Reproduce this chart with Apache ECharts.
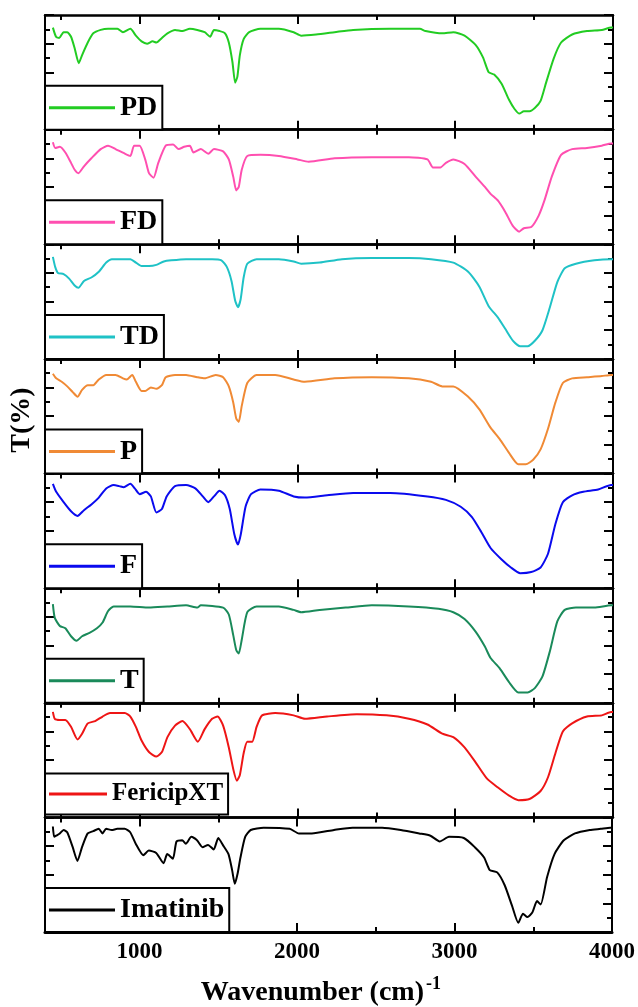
<!DOCTYPE html>
<html><head><meta charset="utf-8">
<script src="https://cdn.jsdelivr.net/npm/echarts@6/dist/echarts.min.js"></script>
<style>html,body{margin:0;padding:0;background:#fff}#c{width:638px;height:1007px}</style>
</head><body><div id="c"></div>
<script>
// ---- data: [wavenumber (cm-1), relative transmittance (0-100 within its panel)] ----
const names = ['PD', 'FD', 'TD', 'P', 'F', 'T', 'FericipXT', 'Imatinib'];
const colors = ['#22cc22', '#ff4fb0', '#1fc2c6', '#f08a35', '#0a0aee', '#1a8a5a', '#ee1515', '#000000'];
const xMajorTicks = [1000, 2000, 3000, 4000];
const xMinorTicks = [500, 1500, 2500, 3500];

const PD = [[450,89],[470,81],[490,80],[518,85],[541,85],[565,81],[588,71],[614,58],[635,65],[671,76],[706,84],[753,87],[800,88],[859,88],[894,85],[941,88],[976,82],[1012,77],[1047,75],[1082,77],[1106,76],[1141,80],[1176,84],[1224,87],[1271,86],[1318,88],[1365,87],[1412,85],[1447,81],[1471,87],[1506,86],[1541,84],[1565,76],[1588,59],[1605,41],[1619,46],[1635,65],[1659,79],[1694,85],[1765,88],[1882,88],[1976,85],[2024,82],[2118,83],[2235,85],[2353,87],[2588,88],[2776,88],[2812,86],[2918,84],[2988,85],[3059,82],[3129,74],[3176,63],[3212,50],[3247,48],[3294,40],[3341,26],[3376,18],[3407,14],[3435,16],[3471,16],[3506,19],[3541,25],[3576,41],[3624,62],[3671,76],[3741,83],[3835,86],[3929,87],[3988,89],[4000,89]];
const FD = [[450,89],[465,84],[494,85],[529,80],[565,71],[588,65],[612,62],[647,68],[694,75],[753,83],[800,86],[847,83],[906,79],[941,77],[965,86],[1000,86],[1035,74],[1059,62],[1088,58],[1118,71],[1165,86],[1212,87],[1247,83],[1282,85],[1318,86],[1341,80],[1388,83],[1435,79],[1471,83],[1529,81],[1565,74],[1593,59],[1612,47],[1628,50],[1647,65],[1682,77],[1765,78],[1882,77],[2000,74],[2071,72],[2235,75],[2471,76],[2706,76],[2824,74],[2859,67],[2906,67],[2941,71],[2988,74],[3059,70],[3129,59],[3188,50],[3224,44],[3271,38],[3318,28],[3365,16],[3405,11],[3435,14],[3482,15],[3529,25],[3565,38],[3612,59],[3671,78],[3741,83],[3835,84],[3929,86],[3988,88],[4000,88]];
const TD = [[450,89],[465,80],[482,75],[518,74],[553,70],[588,64],[612,62],[647,68],[694,71],[741,76],[788,84],[824,87],[894,87],[941,87],[976,84],[1012,81],[1059,81],[1106,82],[1153,85],[1200,86],[1294,87],[1388,87],[1459,87],[1518,86],[1553,80],[1582,68],[1605,51],[1623,45],[1640,52],[1659,71],[1682,83],[1741,87],[1882,87],[1976,85],[2024,83],[2141,84],[2282,87],[2471,88],[2706,88],[2847,87],[2988,84],[3082,76],[3153,63],[3212,46],[3271,36],[3318,26],[3365,16],[3412,11],[3459,11],[3506,16],[3553,25],[3600,45],[3647,67],[3694,79],[3765,83],[3882,86],[3988,87],[4000,87]];
const P = [[450,87],[471,83],[506,80],[541,76],[576,71],[606,67],[635,73],[671,77],[706,77],[741,82],[788,86],[847,86],[894,83],[918,82],[953,86],[976,80],[1012,72],[1035,72],[1071,75],[1106,74],[1141,77],[1165,84],[1224,86],[1294,86],[1365,84],[1412,83],[1482,86],[1529,84],[1565,76],[1593,62],[1612,48],[1628,45],[1647,59],[1682,79],[1741,86],[1859,86],[1976,82],[2047,80],[2235,83],[2471,84],[2706,83],[2847,80],[2918,76],[2988,76],[3082,67],[3153,56],[3224,40],[3282,30],[3341,18],[3400,8],[3447,8],[3494,12],[3541,21],[3588,39],[3635,62],[3682,79],[3741,83],[3835,84],[3929,85],[3988,86],[4000,86]];
const F = [[450,91],[471,84],[518,75],[565,67],[606,63],[647,68],[694,73],[741,79],[788,87],[835,90],[871,89],[899,88],[941,91],[969,87],[1000,82],[1041,84],[1071,80],[1106,66],[1141,69],[1171,80],[1224,89],[1294,90],[1353,87],[1400,80],[1435,75],[1471,80],[1506,85],[1541,81],[1571,69],[1600,47],[1623,38],[1641,47],[1671,71],[1706,82],[1765,86],[1882,85],[1976,80],[2047,79],[2188,81],[2353,83],[2588,83],[2824,80],[2941,77],[3035,71],[3106,62],[3165,49],[3224,35],[3294,25],[3353,18],[3412,13],[3482,14],[3541,18],[3588,30],[3635,56],[3682,75],[3741,81],[3812,84],[3906,86],[3988,90],[4000,90]];
const T = [[450,86],[462,74],[494,67],[529,65],[565,58],[600,54],[635,58],[682,61],[729,65],[765,70],[800,80],[835,84],[941,84],[1059,83],[1176,84],[1294,85],[1365,83],[1388,85],[1529,83],[1565,77],[1593,59],[1612,46],[1628,43],[1647,55],[1682,79],[1741,84],[1882,84],[1976,81],[2024,79],[2141,81],[2306,83],[2471,85],[2706,84],[2894,82],[2988,79],[3059,73],[3129,62],[3188,49],[3224,39],[3282,30],[3341,18],[3400,9],[3459,9],[3506,13],[3553,23],[3600,45],[3647,71],[3694,81],[3765,83],[3882,83],[3988,85],[4000,85]];
const FericipXT = [[450,92],[462,86],[494,85],[529,85],[565,79],[606,68],[635,73],[671,82],[718,84],[765,88],[812,91],[859,91],[906,91],[941,88],[976,79],[1012,67],[1059,57],[1106,53],[1141,57],[1176,70],[1224,80],[1271,84],[1318,77],[1369,66],[1412,77],[1459,86],[1494,88],[1529,80],[1565,61],[1595,41],[1616,32],[1635,37],[1659,56],[1682,66],[1713,66],[1741,79],[1776,89],[1859,91],[1976,89],[2047,86],[2188,88],[2376,90],[2565,89],[2706,86],[2824,81],[2918,73],[2988,70],[3059,61],[3129,48],[3200,34],[3271,26],[3341,19],[3400,15],[3471,16],[3541,23],[3588,35],[3635,56],[3682,75],[3741,82],[3835,88],[3929,89],[3988,92],[4000,92]];
const Imatinib = [[450,92],[458,83],[471,84],[494,86],[518,89],[541,87],[576,74],[606,62],[635,74],[671,86],[706,88],[741,90],[765,86],[788,90],[824,89],[859,90],[906,90],[941,87],[976,77],[1024,67],[1059,71],[1106,69],[1153,60],[1176,68],[1212,64],[1235,79],[1271,80],[1294,77],[1329,83],[1365,80],[1400,74],[1435,76],[1471,72],[1500,82],[1529,76],[1565,68],[1588,54],[1605,42],[1623,51],[1641,65],[1671,83],[1706,89],[1788,91],[1953,90],[2012,86],[2094,86],[2235,89],[2353,91],[2541,91],[2659,89],[2776,86],[2847,84],[2906,79],[2965,83],[3059,82],[3129,74],[3188,65],[3224,54],[3271,52],[3318,41],[3365,23],[3405,8],[3435,16],[3463,13],[3494,17],[3524,27],[3547,24],[3588,48],[3635,68],[3694,80],[3765,86],[3859,89],[3929,90],[3988,91],[4000,91]];

const spectra = [PD, FD, TD, P, F, T, FericipXT, Imatinib];

// ---- layout ----
const LEFT = 45, RIGHT = 25, TOP = 15, BOTTOM_Y = 932;
const N = names.length;
const PH = (BOTTOM_Y - TOP) / N;
const serif = '"Liberation Serif", "Times New Roman", serif';

const grid = [], xAxis = [], yAxis = [], series = [], legend = [];
for (let i = 0; i < N; i++) {
  const top = TOP + i * PH;
  const last = i === N - 1;
  grid.push({ left: LEFT, right: RIGHT, top: top, height: PH, containLabel: false });
  const base = { gridIndex: i, type: 'value', min: 400, max: 4000, splitLine: { show: false } };
  // bottom major
  xAxis.push(Object.assign({}, base, {
    position: 'bottom',
    axisLine: { show: true, lineStyle: { color: '#000', width: last ? 3 : 2.5 } },
    axisTick: { show: true, inside: true, length: 9, customValues: xMajorTicks, lineStyle: { color: '#000', width: 2 } },
    axisLabel: last ? { show: true, customValues: xMajorTicks, margin: 9, color: '#000',
      formatter: function (v) { return String(v); },
      fontFamily: serif, fontWeight: 'bold', fontSize: 23 } : { show: false }
  }));
  // bottom minor
  xAxis.push(Object.assign({}, base, {
    position: 'bottom',
    axisLine: { show: false },
    axisTick: { show: true, inside: true, length: 5, customValues: xMinorTicks, lineStyle: { color: '#000', width: 2 } },
    axisLabel: { show: false }
  }));
  // top major
  xAxis.push(Object.assign({}, base, {
    position: 'top',
    axisLine: { show: true, lineStyle: { color: '#000', width: 2.5 } },
    axisTick: { show: true, inside: true, length: 9, customValues: xMajorTicks, lineStyle: { color: '#000', width: 2 } },
    axisLabel: { show: false }
  }));
  // top minor
  xAxis.push(Object.assign({}, base, {
    position: 'top',
    axisLine: { show: false },
    axisTick: { show: true, inside: true, length: 5, customValues: xMinorTicks, lineStyle: { color: '#000', width: 2 } },
    axisLabel: { show: false }
  }));
  const ybase = { gridIndex: i, type: 'value', min: 0, max: 100, interval: 25,
    axisLine: { show: true, lineStyle: { color: '#000', width: 2 } },
    axisTick: { show: true, inside: true, length: 9, lineStyle: { color: '#000', width: 2 } },
    minorTick: { show: true, splitNumber: 2, length: 5, lineStyle: { color: '#000', width: 2 } },
    axisLabel: { show: false }, splitLine: { show: false }, minorSplitLine: { show: false } };
  yAxis.push(Object.assign({}, ybase, { position: 'left' }));
  yAxis.push(Object.assign({}, ybase, { position: 'right' }));

  series.push({
    type: 'line', name: names[i], data: spectra[i],
    xAxisIndex: 4 * i, yAxisIndex: 2 * i,
    symbol: 'none', showSymbol: false, smooth: 0.2, silent: true, clip: true,
    lineStyle: { color: colors[i], width: 2 }, itemStyle: { color: colors[i] }
  });

  const isLong = names[i] === 'FericipXT';
  legend.push({
    show: true, data: [names[i]], selectedMode: false,
    left: LEFT, top: top + PH - 44,
    orient: 'horizontal',
    backgroundColor: '#fff', borderColor: '#000', borderWidth: 2, borderRadius: 0,
    padding: [8, 5, 8, 4],
    icon: 'rect',
    itemWidth: isLong ? 58 : 66, itemHeight: 3,
    itemStyle: { color: colors[i], borderWidth: 0 },
    textStyle: { fontFamily: serif, fontWeight: 'bold', fontSize: isLong ? 25 : 28, color: '#000' },
    z: 10
  });
}

const option = {
  backgroundColor: '#fff',
  animation: false,
  grid, xAxis, yAxis, series, legend,
  graphic: [
    { type: 'text', x: 22, y: 420, rotation: Math.PI / 2, z: 20,
      style: { text: 'T(%)', font: 'bold 28px ' + serif, fill: '#000', align: 'center', verticalAlign: 'middle' } },
    { type: 'text', x: 424, y: 993, z: 20,
      style: { text: 'Wavenumber (cm)', font: 'bold 28px ' + serif, fill: '#000', align: 'right', verticalAlign: 'middle' } },
    { type: 'text', x: 426, y: 984, z: 20,
      style: { text: '-1', font: 'bold 18px ' + serif, fill: '#000', align: 'left', verticalAlign: 'middle' } }
  ]
};

const chart = echarts.init(document.getElementById('c'), null, { renderer: 'canvas' });
chart.setOption(option);
</script>
</body></html>
